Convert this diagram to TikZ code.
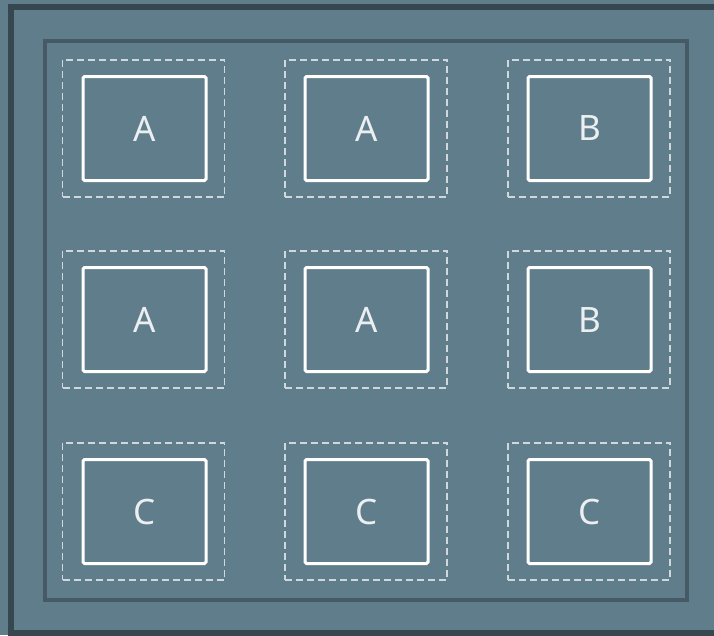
\documentclass[tikz,border=0pt]{standalone}
\usepackage{fontspec}
\setmainfont{Noto Sans}
\definecolor{bgc}{HTML}{607D8B}
\definecolor{outerc}{HTML}{37474F}
\definecolor{innerc}{HTML}{455A64}
\definecolor{dashc}{HTML}{CFD8DC}
\definecolor{txtc}{HTML}{ECEFF1}
\begin{document}
\begin{tikzpicture}[x=1pt,y=-1pt,
  cell/.style={draw=white, line width=3pt, rounded corners=1.5pt, minimum width=123pt, minimum height=104pt, inner sep=0pt,
    text=txtc, font=\fontsize{35}{40}\selectfont},
  dashbox/.style={draw=dashc, line width=1.7pt, dash pattern=on 7pt off 4pt, minimum width=162pt, minimum height=137.5pt, inner sep=0pt}]
\useasboundingbox (0,0) rectangle (714,635);
\clip (0,0) rectangle (714,635);
\fill[bgc] (0,0) rectangle (714,635);
\draw[outerc, line width=6pt] (11,6.5) rectangle (730,633);
\draw[innerc, line width=4pt] (45,41) rectangle (687,600);
\foreach \r/\y in {1/128.5,2/319.5,3/511.5}{
  \foreach \c/\x in {1/143.5,2/366,3/589}{
    \node[dashbox] (d\r\c) at (\x,\y) {};
  }
}
\node[cell] (n11) at (144.5,128.5) {A};
\node[cell] (n12) at (366.5,128.5) {A};
\node[cell] (n13) at (589.5,128.5) {B};
\node[cell] (n21) at (144.5,319.5) {A};
\node[cell] (n22) at (366.5,319.5) {A};
\node[cell] (n23) at (589.5,319.5) {B};
\node[cell] (n31) at (144.5,511.5) {C};
\node[cell] (n32) at (366.5,511.5) {C};
\node[cell] (n33) at (589.5,511.5) {C};
\end{tikzpicture}
\end{document}
